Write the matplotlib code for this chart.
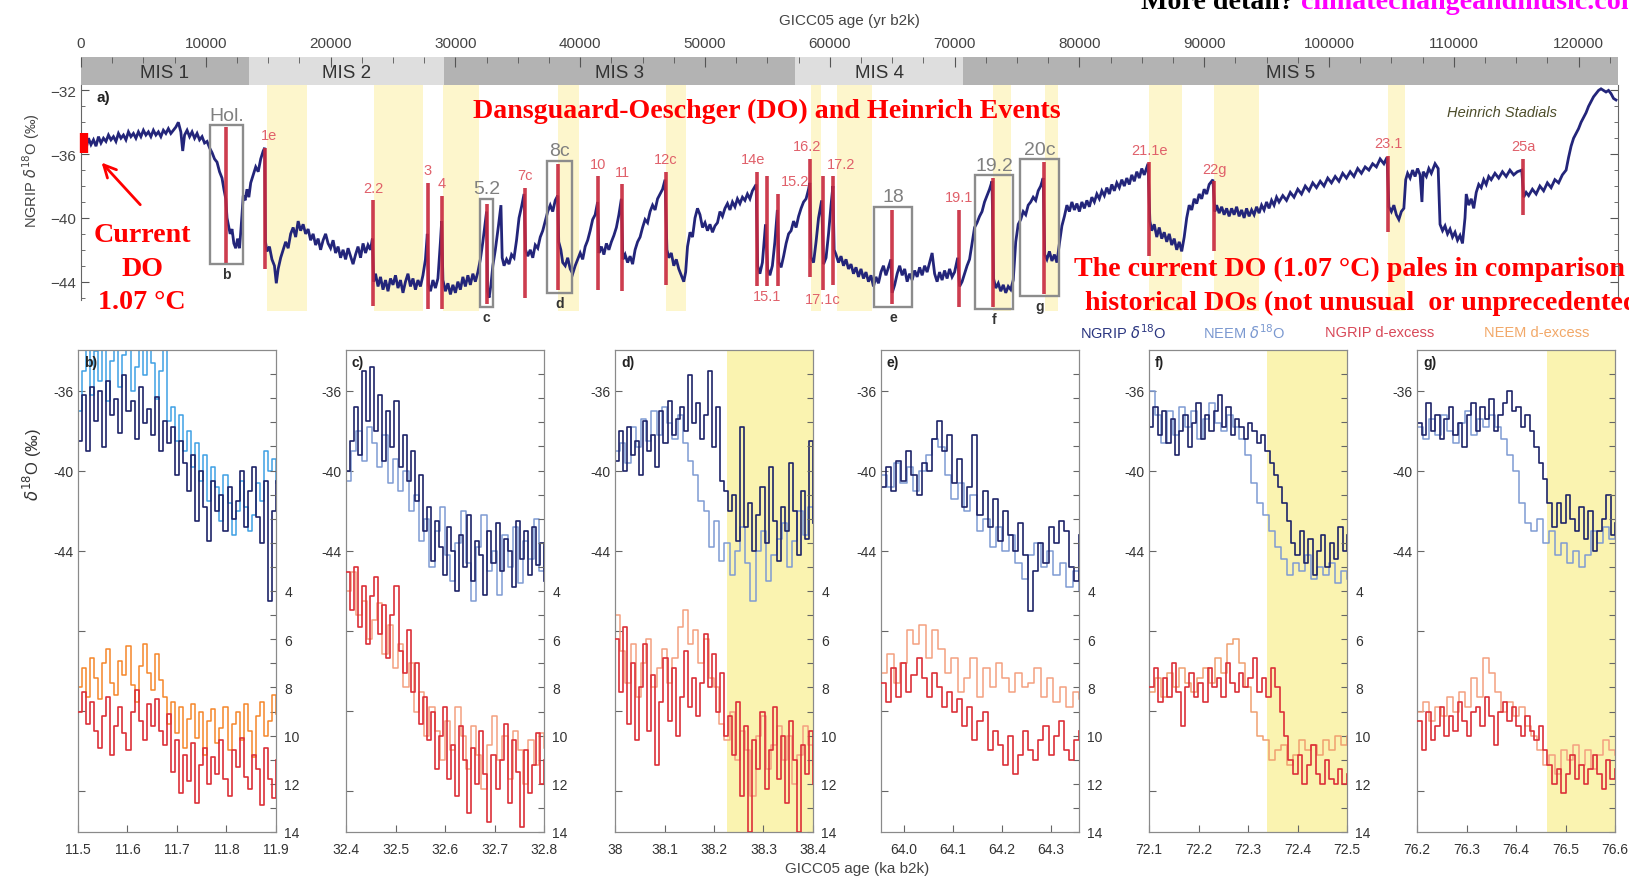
import matplotlib
matplotlib.use('Agg')
import matplotlib.pyplot as plt
from matplotlib.patches import Rectangle
import numpy as np

# ---------------- top panel data (age in ka, NGRIP d18O) ----------------
ngrip = [
 (0.0,-35.4),(0.15,-35.7),(0.3,-35.2),(0.45,-35.5),(0.6,-35.0),(0.8,-35.4),(1.0,-35.1),(1.2,-35.5),
 (1.4,-34.9),(1.6,-35.3),(1.8,-35.0),(2.0,-35.2),(2.2,-34.8),(2.4,-35.1),(2.6,-34.9),(2.8,-35.2),
 (3.0,-34.7),(3.2,-35.0),(3.4,-34.8),(3.6,-35.1),(3.8,-34.6),(4.0,-34.9),(4.2,-34.7),(4.4,-35.0),
 (4.6,-34.6),(4.8,-34.9),(5.0,-34.5),(5.2,-34.8),(5.4,-34.6),(5.6,-34.9),(5.8,-34.5),(6.0,-34.8),
 (6.2,-34.6),(6.4,-34.9),(6.6,-34.5),(6.8,-34.7),(7.0,-34.4),(7.2,-34.7),(7.4,-34.5),(7.6,-34.3),
 (7.8,-34.0),(8.0,-34.6),(8.15,-35.8),(8.3,-34.8),(8.5,-34.5),(8.7,-34.9),(8.9,-34.6),(9.1,-35.0),
 (9.3,-34.7),(9.5,-35.1),(9.7,-34.9),(9.9,-35.3),(10.1,-35.2),(10.3,-35.6),(10.5,-35.9),(10.7,-36.3),
 (10.9,-36.5),(11.1,-37.1),(11.3,-37.5),(11.45,-38.2),(11.6,-38.8),(11.7,-40.0),(11.8,-40.4),(11.95,-41.0),
 (12.1,-40.7),(12.25,-41.6),(12.4,-41.9),(12.55,-41.3),(12.7,-41.9),(12.8,-40.9),(12.9,-39.8),(13.0,-38.6),
 (13.15,-38.9),(13.3,-38.2),(13.45,-38.7),(13.6,-37.8),(13.8,-37.3),(14.0,-36.8),(14.2,-37.1),(14.4,-36.3),
 (14.6,-35.8),(14.72,-35.6),(14.78,-41.5),(14.9,-42.1),(15.1,-41.8),(15.3,-42.6),(15.5,-43.0),(15.65,-44.1),
 (15.8,-43.2),(16.0,-42.5),(16.2,-42.0),(16.4,-41.5),(16.6,-41.9),(16.8,-41.0),(17.0,-40.6),(17.2,-41.2),
 (17.4,-40.2),(17.6,-40.8),(17.8,-40.4),(18.0,-41.0),(18.2,-40.7),(18.4,-41.4),(18.6,-41.0),(18.8,-41.7),
 (19.0,-41.3),(19.2,-42.0),(19.4,-41.4),(19.6,-41.0),(19.8,-41.6),(20.0,-41.9),(20.2,-41.4),(20.4,-42.2),
 (20.6,-41.8),(20.8,-42.5),(21.0,-42.0),(21.2,-42.6),(21.4,-41.9),(21.6,-42.4),(21.8,-42.9),(22.0,-42.3),
 (22.2,-41.8),(22.4,-42.5),(22.6,-41.6),(22.8,-42.2),(23.0,-41.7),(23.2,-42.0),(23.35,-41.3),(23.45,-44.0),
 (23.6,-43.5),(23.8,-44.3),(24.0,-43.7),(24.2,-44.5),(24.4,-43.9),(24.6,-44.6),(24.8,-43.8),(25.0,-44.2),
 (25.2,-43.6),(25.4,-44.4),(25.6,-43.9),(25.8,-44.7),(26.0,-44.0),(26.2,-43.5),(26.4,-44.3),(26.6,-43.8),
 (26.8,-44.5),(27.0,-43.9),(27.2,-44.3),(27.4,-43.6),(27.6,-42.6),(27.75,-41.0),(27.85,-44.2),(28.0,-44.6),
 (28.2,-43.9),(28.4,-44.4),(28.6,-43.8),(28.8,-41.5),(28.9,-40.2),(29.0,-43.9),(29.2,-44.6),(29.4,-44.1),
 (29.6,-44.8),(29.8,-44.2),(30.0,-44.7),(30.2,-44.0),(30.4,-44.5),(30.6,-43.7),(30.8,-44.3),(31.0,-43.6),
 (31.2,-44.2),(31.4,-43.5),(31.6,-44.0),(31.8,-43.4),(32.0,-42.6),(32.2,-41.5),(32.4,-40.2),(32.5,-39.6),
 (32.58,-44.6),(32.7,-45.0),(32.85,-44.2),(33.0,-43.0),(33.2,-42.0),(33.45,-40.5),(33.65,-39.2),(33.75,-42.5),
 (33.9,-43.0),(34.1,-42.6),(34.3,-42.9),(34.5,-42.3),(34.7,-42.5),(34.9,-41.4),(35.1,-40.0),(35.3,-39.3),
 (35.5,-38.5),(35.62,-42.0),(35.8,-42.4),(36.0,-42.0),(36.2,-42.5),(36.4,-41.7),(36.6,-41.9),(36.8,-41.2),
 (37.0,-40.8),(37.2,-40.2),(37.4,-39.6),(37.6,-39.2),(37.8,-39.6),(38.0,-38.9),(38.2,-38.6),(38.28,-41.5),
 (38.45,-42.0),(38.6,-42.8),(38.8,-43.0),(39.0,-42.5),(39.2,-43.2),(39.4,-43.5),(39.6,-43.0),(39.8,-42.6),
 (40.0,-42.2),(40.2,-42.6),(40.4,-41.8),(40.6,-41.4),(40.8,-40.8),(41.0,-40.1),(41.2,-39.8),(41.4,-39.0),
 (41.5,-42.2),(41.7,-41.8),(41.9,-42.3),(42.1,-41.6),(42.3,-42.0),(42.5,-41.5),(42.7,-41.1),(42.9,-40.6),
 (43.1,-39.8),(43.3,-38.8),(43.42,-42.6),(43.6,-42.3),(43.8,-42.8),(44.0,-42.4),(44.2,-42.9),(44.4,-42.0),
 (44.6,-41.5),(44.8,-41.2),(45.0,-40.6),(45.2,-40.1),(45.4,-40.3),(45.6,-39.6),(45.8,-39.2),(46.0,-39.5),
 (46.2,-38.8),(46.4,-38.5),(46.6,-38.2),(46.8,-37.6),(46.95,-42.0),(47.1,-42.5),(47.3,-42.2),(47.5,-43.0),
 (47.7,-42.6),(47.9,-43.2),(48.1,-43.6),(48.3,-44.0),(48.45,-43.4),(48.6,-41.8),(48.8,-40.9),(49.0,-41.2),
 (49.2,-40.0),(49.4,-39.4),(49.6,-39.8),(49.8,-40.6),(50.0,-40.3),(50.2,-40.8),(50.4,-40.4),(50.6,-40.9),
 (50.8,-40.5),(51.0,-40.3),(51.2,-39.6),(51.4,-39.9),(51.6,-39.4),(51.8,-39.1),(52.0,-39.5),(52.2,-39.0),
 (52.4,-39.3),(52.6,-38.8),(52.8,-39.1),(53.0,-38.7),(53.2,-38.9),(53.4,-38.5),(53.6,-38.8),(53.8,-38.3),
 (54.1,-37.9),(54.22,-43.0),(54.4,-43.5),(54.6,-42.8),(54.85,-40.4),(55.02,-43.2),(55.2,-43.6),(55.4,-43.0),
 (55.6,-41.5),(55.8,-39.5),(55.92,-42.8),(56.1,-43.1),(56.3,-42.4),(56.5,-41.6),(56.7,-41.0),(56.9,-40.8),
 (57.1,-40.2),(57.3,-40.6),(57.5,-39.9),(57.7,-39.4),(57.9,-39.0),(58.1,-38.8),(58.3,-38.2),(58.4,-37.8),
 (58.5,-42.5),(58.7,-42.8),(58.9,-41.5),(59.1,-40.0),(59.35,-38.9),(59.5,-42.9),(59.7,-42.5),(59.9,-41.0),
 (60.1,-39.2),(60.25,-38.0),(60.35,-42.0),(60.5,-42.3),(60.7,-42.8),(60.9,-42.4),(61.1,-43.0),(61.3,-42.6),
 (61.5,-43.2),(61.7,-42.9),(61.9,-43.5),(62.1,-43.1),(62.3,-43.7),(62.5,-43.2),(62.7,-43.8),(62.9,-43.4),
 (63.1,-44.0),(63.3,-43.6),(63.5,-44.3),(63.7,-43.7),(63.9,-44.1),(64.1,-43.4),(64.3,-43.0),(64.5,-43.6),
 (64.7,-43.1),(64.9,-42.6),(65.0,-44.7),(65.2,-44.2),(65.4,-43.5),(65.6,-43.0),(65.8,-43.6),(66.0,-43.2),
 (66.2,-44.0),(66.4,-43.5),(66.6,-43.9),(66.8,-43.3),(67.0,-43.7),(67.2,-43.1),(67.4,-43.6),(67.6,-43.0),
 (67.8,-43.4),(68.0,-42.8),(68.2,-42.2),(68.4,-43.5),(68.6,-44.0),(68.8,-43.4),(69.0,-43.9),(69.2,-43.3),
 (69.4,-43.8),(69.6,-43.2),(69.8,-43.7),(70.0,-43.4),(70.25,-42.5),(70.4,-44.3),(70.6,-44.0),(70.8,-43.5),
 (71.0,-43.0),(71.2,-42.6),(71.4,-41.6),(71.6,-40.6),(71.8,-40.3),(72.0,-39.9),(72.2,-39.6),(72.4,-39.0),
 (72.6,-38.6),(72.8,-38.2),(73.0,-37.7),(73.12,-43.8),(73.3,-44.4),(73.5,-44.1),(73.7,-44.6),(73.9,-44.2),
 (74.1,-44.7),(74.3,-44.3),(74.5,-44.5),(74.7,-43.9),(74.9,-41.5),(75.1,-40.4),(75.3,-40.1),(75.5,-39.6),
 (75.7,-39.8),(75.9,-39.2),(76.1,-39.0),(76.3,-38.7),(76.5,-38.9),(76.7,-38.3),(76.9,-38.0),(77.1,-37.5),
 (77.22,-42.3),(77.4,-42.6),(77.6,-42.1),(77.8,-42.7),(78.0,-42.3),(78.2,-42.8),(78.4,-41.6),(78.6,-40.5),
 (78.8,-39.9),(79.0,-39.2),(79.2,-39.6),(79.4,-39.0),(79.6,-39.5),(79.8,-39.1),(80.0,-39.6),(80.2,-39.0),
 (80.4,-39.4),(80.6,-38.9),(80.8,-39.3),(81.0,-38.7),(81.2,-39.0),(81.4,-38.5),(81.6,-38.8),(81.8,-38.3),
 (82.0,-38.6),(82.2,-38.1),(82.4,-38.5),(82.6,-37.9),(82.8,-38.3),(83.0,-37.8),(83.2,-38.1),(83.4,-37.6),
 (83.6,-38.0),(83.8,-37.5),(84.0,-37.9),(84.2,-37.3),(84.4,-37.7),(84.6,-37.1),(84.8,-37.5),(85.0,-36.9),
 (85.2,-37.3),(85.5,-36.6),(85.65,-40.2),(85.8,-40.8),(86.0,-40.4),(86.2,-41.2),(86.4,-40.6),(86.6,-41.3),
 (86.8,-40.9),(87.0,-41.5),(87.2,-41.0),(87.4,-41.7),(87.6,-41.3),(87.8,-42.0),(88.0,-41.5),(88.2,-42.1),
 (88.4,-41.2),(88.6,-40.0),(88.8,-39.2),(89.0,-39.5),(89.2,-38.8),(89.4,-39.1),(89.6,-38.5),(89.8,-38.8),
 (90.0,-38.2),(90.2,-38.5),(90.4,-37.9),(90.7,-37.6),(90.85,-39.6),(91.0,-39.2),(91.2,-39.7),(91.4,-39.3),
 (91.6,-39.8),(91.8,-39.4),(92.0,-39.9),(92.2,-39.4),(92.4,-39.8),(92.6,-39.3),(92.8,-39.9),(93.0,-39.5),
 (93.2,-40.0),(93.4,-39.4),(93.6,-39.9),(93.8,-39.5),(94.0,-39.8),(94.2,-39.3),(94.4,-39.7),(94.6,-39.2),
 (94.8,-39.5),(95.0,-39.0),(95.2,-39.4),(95.4,-38.9),(95.6,-39.2),(95.8,-38.7),(96.0,-39.0),(96.3,-38.6),
 (96.6,-38.9),(96.9,-38.4),(97.2,-38.7),(97.5,-38.2),(97.8,-38.5),(98.1,-38.0),(98.4,-38.3),(98.7,-37.8),
 (99.0,-38.1),(99.3,-37.7),(99.6,-38.0),(99.9,-37.5),(100.2,-37.8),(100.5,-37.4),(100.8,-37.7),(101.1,-37.2),
 (101.4,-37.5),(101.7,-37.1),(102.0,-37.4),(102.3,-36.9),(102.6,-37.2),(102.9,-36.8),(103.2,-37.0),(103.5,-36.6),
 (103.8,-36.8),(104.1,-36.3),(104.4,-36.6),(104.65,-36.2),(104.8,-39.3),(105.0,-39.6),(105.2,-39.2),(105.4,-39.8),
 (105.6,-40.1),(105.8,-39.6),(106.0,-39.4),(106.15,-37.6),(106.3,-37.2),(106.5,-37.5),(106.7,-37.0),(106.9,-37.4),
 (107.1,-36.9),(107.3,-37.3),(107.45,-39.0),(107.55,-37.1),(107.8,-37.4),(108.0,-36.9),(108.2,-37.2),(108.5,-36.6),
 (108.75,-36.9),(108.9,-40.4),(109.1,-40.8),(109.3,-40.5),(109.5,-41.0),(109.7,-40.7),(109.9,-41.2),(110.1,-40.9),
 (110.3,-41.4),(110.5,-41.1),(110.7,-41.6),(110.9,-40.0),(111.0,-38.5),(111.2,-39.2),(111.4,-38.8),(111.6,-39.4),
 (111.8,-38.4),(112.0,-37.9),(112.2,-38.1),(112.4,-37.6),(112.6,-37.9),(112.8,-37.4),(113.0,-37.6),(113.3,-37.2),
 (113.6,-37.5),(113.9,-37.1),(114.2,-37.4),(114.5,-37.0),(114.8,-37.3),(115.1,-37.1),(115.45,-37.0),(115.6,-38.7),
 (115.8,-38.4),(116.0,-38.6),(116.3,-38.2),(116.6,-38.5),(116.9,-38.0),(117.2,-38.3),(117.5,-37.8),(117.8,-38.1),
 (118.1,-37.6),(118.4,-37.8),(118.7,-37.3),(119.0,-37.0),(119.2,-36.2),(119.4,-35.5),(119.6,-35.0),(119.8,-34.7),
 (120.0,-34.4),(120.2,-34.0),(120.4,-33.7),(120.6,-33.4),(120.8,-33.0),(121.0,-32.7),(121.2,-32.4),(121.4,-32.2),
 (121.6,-32.0),(121.8,-31.9),(122.0,-32.0),(122.2,-32.1),(122.4,-32.0),(122.6,-32.2),(122.8,-32.5),(123.0,-32.6),
]

# DO events: name, onset age (ka), top and bottom of red marker (permil)
do_names = ['', '1e', '2.2', '3', '4', '', '7c', '', '10', '11', '12c', '14e', '15.1', '15.2',
            '16.2', '17.1c', '17.2', '', '19.1', '', '', '21.1e', '22g', '23.1', '25a']
do_ages = [11.65, 14.74, 23.4, 27.8, 28.93, 32.53, 35.58, 38.22, 41.43, 43.35, 46.88, 54.17, 54.97,
           55.85, 58.41, 59.46, 60.26, 64.95, 70.35, 73.08, 77.16, 85.58, 90.79, 104.75, 115.55]
do_top = [-34.3, -35.6, -38.9, -37.8, -38.6, -39.1, -38.1, -36.6, -37.4, -37.9, -37.1, -37.1, -37.4,
          -38.5, -36.3, -37.4, -37.4, -39.5, -39.5, -37.5, -36.5, -36.5, -37.7, -36.1, -36.3]
do_bot = [-42.8, -43.2, -45.5, -45.7, -45.7, -45.4, -45.0, -44.5, -44.5, -44.6, -44.2, -44.3, -44.3,
          -44.3, -43.7, -44.5, -44.2, -45.4, -45.6, -45.6, -44.8, -42.4, -42.1, -40.9, -39.8]

# boxed events shown in the lower panels
box_names = ['Hol.', '5.2', '8c', '18', '19.2', '20c']
box_letters = ['b', 'c', 'd', 'e', 'f', 'g']
box_from = [10.34, 31.97, 37.34, 63.54, 71.63, 75.24]
box_to = [12.98, 33.01, 39.34, 66.59, 74.68, 78.37]
box_top = [-34.2, -38.8, -36.4, -39.3, -37.3, -36.3]
box_bot = [-42.9, -45.6, -44.7, -45.6, -45.7, -44.9]

# Heinrich stadials (ka)
hs_from = [14.9, 23.5, 29.0, 38.25, 46.9, 58.5, 60.6, 73.1, 77.25, 85.6, 90.8, 104.7]
hs_to = [18.1, 27.4, 31.9, 39.9, 48.5, 59.3, 63.4, 74.5, 78.3, 88.2, 94.4, 106.1]

mis_names = ['MIS 1', 'MIS 2', 'MIS 3', 'MIS 4', 'MIS 5']
mis_from = [0, 13.46, 29.08, 57.2, 70.7]
mis_to = [13.46, 29.08, 57.2, 70.7, 123.2]

current_do = (-34.7, -35.9)

# ---------------- lower panels data ----------------
panel_lims = [(11.5, 11.9), (32.4, 32.8), (38.0, 38.4), (63.953, 64.357), (72.1, 72.5), (76.2, 76.6)]
panel_ticks = [[11.5, 11.6, 11.7, 11.8, 11.9], [32.4, 32.5, 32.6, 32.7, 32.8], [38.0, 38.1, 38.2, 38.3, 38.4],
               [64.0, 64.1, 64.2, 64.3], [72.1, 72.2, 72.3, 72.4, 72.5], [76.2, 76.3, 76.4, 76.5, 76.6]]
panel_ticklabels = [['11.5', '11.6', '11.7', '11.8', '11.9'], ['32.4', '32.5', '32.6', '32.7', '32.8'],
                    ['38', '38.1', '38.2', '38.3', '38.4'], ['64.0', '64.1', '64.2', '64.3'],
                    ['72.1', '72.2', '72.3', '72.4', '72.5'], ['76.2', '76.3', '76.4', '76.5', '76.6']]
panel_stadial = [None, None, 38.227, None, 72.338, 76.462]

ngrip_d18o = [
 [-38.5,-36.2,-39.0,-35.8,-37.5,-36.0,-38.8,-35.5,-37.2,-36.4,-38.1,-35.2,-37.0,-36.5,-38.4,-35.8,-37.6,-36.9,-38.2,-36.3,
  -39.0,-37.5,-38.6,-37.8,-40.2,-38.5,-39.6,-41.0,-39.2,-42.5,-40.0,-41.8,-43.5,-40.5,-42.0,-41.2,-43.0,-40.8,-42.4,-41.5,
  -40.0,-42.8,-41.0,-39.8,-42.3,-43.6,-40.5,-46.5,-42.0,-40.5],
 [-40.0,-38.5,-36.8,-39.2,-35.0,-37.5,-34.8,-38.0,-36.2,-39.5,-37.0,-38.8,-36.5,-39.8,-38.2,-40.5,-39.0,-41.5,-40.2,-43.0,
  -41.8,-44.5,-42.5,-43.8,-45.2,-42.8,-44.0,-46.0,-43.2,-44.8,-42.2,-45.5,-43.5,-44.2,-46.2,-43.0,-44.6,-42.6,-45.0,-43.4,
  -44.0,-45.8,-42.5,-44.4,-43.0,-45.2,-42.8,-44.7,-43.6,-45.5],
 [-39.5,-38.0,-40.0,-37.8,-39.2,-38.5,-40.2,-37.5,-39.0,-38.2,-39.8,-37.0,-38.6,-36.5,-38.2,-37.4,-36.8,-38.0,-35.2,-37.6,
  -36.6,-38.4,-37.2,-35.0,-38.8,-36.8,-40.5,-41.0,-42.0,-41.2,-43.5,-37.8,-42.8,-41.6,-44.0,-42.2,-40.8,-43.6,-39.8,-42.5,
  -44.5,-41.8,-43.0,-39.6,-42.0,-44.2,-41.0,-43.4,-38.5,-42.6],
 [-40.8,-39.8,-41.0,-39.5,-40.5,-39.0,-40.2,-41.2,-39.6,-40.0,-38.4,-37.5,-39.0,-38.2,-40.6,-39.4,-41.8,-40.8,-38.2,-42.2,
  -41.0,-42.8,-41.4,-43.5,-42.0,-43.2,-44.0,-42.6,-44.2,-47.0,-45.0,-43.6,-44.6,-42.8,-43.6,-42.5,-43.0,-44.8,-45.5,-43.2],
 [-37.8,-36.8,-38.2,-37.0,-38.6,-37.4,-39.2,-38.0,-37.2,-38.8,-37.6,-36.6,-38.4,-37.2,-38.0,-37.0,-36.2,-37.8,-36.8,-38.2,
  -37.4,-37.8,-38.4,-37.6,-38.0,-38.6,-38.2,-39.0,-39.6,-40.2,-40.8,-41.6,-42.5,-43.6,-44.2,-43.0,-44.6,-43.4,-45.2,-44.0,
  -43.2,-44.8,-43.6,-44.4,-42.8,-44.0,-43.2],
 [-37.6,-38.2,-36.6,-38.0,-37.2,-38.4,-37.4,-36.8,-38.2,-37.6,-38.8,-37.2,-36.6,-38.0,-36.8,-37.4,-36.4,-38.0,-37.2,-36.6,
  -36.0,-37.0,-36.8,-37.8,-37.2,-38.0,-38.8,-39.6,-40.4,-41.6,-42.8,-41.6,-42.6,-41.2,-42.4,-43.0,-41.8,-43.4,-42.0,-44.0,
  -43.0,-42.4,-41.2,-43.2,-42.6],
]
neem_d18o = [
 [-37.0,-35.0,-33.5,-36.2,-34.0,-35.5,-33.0,-36.5,-34.5,-33.2,-35.8,-34.2,-33.0,-36.0,-34.8,-33.4,-35.2,-33.0,-34.6,-36.4,
  -35.0,-33.5,-37.5,-36.8,-38.5,-37.2,-39.0,-38.0,-39.8,-38.6,-40.5,-39.2,-41.5,-39.8,-40.8,-42.5,-40.2,-41.6,-43.2,-42.0,
  -40.5,-41.8,-43.0,-42.2,-40.6,-41.5,-39.0,-40.0,-39.4,-40.6],
 [-40.5,-39.0,-38.0,-39.5,-37.8,-38.6,-39.8,-38.2,-40.6,-39.4,-41.0,-40.0,-42.0,-41.2,-43.5,-42.4,-44.8,-43.0,-41.8,-44.2,
  -45.5,-43.6,-42.0,-44.6,-46.5,-43.8,-42.2,-45.0,-44.0,-46.2,-43.2,-44.8,-42.8,-45.6,-43.5,-44.4,-42.4,-45.0,-43.8],
 [-39.0,-38.6,-39.6,-37.8,-38.8,-37.4,-38.5,-37.0,-38.2,-36.8,-37.6,-38.4,-37.2,-38.6,-39.5,-40.2,-41.5,-42.0,-43.8,-42.5,
  -44.5,-43.6,-45.2,-44.0,-42.8,-44.6,-46.5,-44.0,-43.0,-45.5,-44.2,-43.4,-42.6,-44.8,-43.5,-42.0,-43.2,-41.8,-42.6],
 [-40.2,-40.8,-39.6,-40.6,-39.8,-41.0,-40.0,-39.2,-38.4,-38.8,-40.2,-41.4,-40.6,-42.0,-41.2,-43.0,-42.4,-43.8,-42.8,-44.0,
  -43.2,-44.6,-45.4,-44.2,-43.6,-44.8,-44.0,-45.2,-44.6,-45.8,-45.0,-46.0],
 [-36.0,-37.2,-38.6,-37.0,-38.2,-36.8,-37.8,-37.0,-38.4,-37.4,-36.6,-37.6,-38.0,-37.2,-37.8,-38.4,-39.2,-40.6,-41.6,-42.2,
  -43.0,-43.8,-44.4,-45.2,-44.6,-45.0,-44.2,-45.4,-44.8,-45.2,-44.6,-45.6,-45.0,-45.4],
 [-37.8,-38.4,-37.4,-38.2,-37.2,-38.0,-38.6,-37.6,-37.0,-38.2,-37.4,-37.8,-37.2,-37.8,-38.4,-39.2,-40.0,-41.6,-42.6,-43.0,
  -42.4,-43.6,-43.0,-44.2,-43.6,-44.6,-44.0,-44.8,-44.2,-43.0,-43.6,-42.8,-43.4,-43.0],
]
ngrip_dxs = [
 [9.0,8.2,9.5,8.6,9.8,10.5,9.2,8.4,10.8,9.6,8.8,9.9,10.6,9.0,8.1,9.4,10.2,8.7,9.6,8.5,9.8,10.4,9.1,11.5,10.2,
  12.4,10.8,11.9,10.3,12.8,11.2,10.5,12.0,10.9,11.6,10.2,11.8,12.5,10.6,11.3,10.1,11.7,12.2,10.8,11.4,12.9,10.5,11.8,12.6,11.0],
 [3.2,4.8,3.0,5.5,3.8,6.2,4.2,3.4,5.8,4.6,6.8,5.0,3.8,6.5,7.4,5.6,8.2,7.0,9.5,8.4,10.2,9.0,11.4,10.0,8.8,
  11.8,10.4,12.5,9.6,11.0,13.2,10.5,12.0,9.8,11.6,13.6,10.8,12.2,11.0,9.5,12.8,10.2,11.5,13.8,10.6,12.4,11.2,9.9,12.0,11.0],
 [6.0,8.2,5.5,9.5,7.0,10.2,8.0,6.2,9.8,7.5,11.2,8.6,6.8,9.4,7.2,10.0,8.4,6.5,8.8,7.6,9.2,7.8,5.8,8.0,6.6,
  9.0,7.4,10.0,9.2,10.8,8.6,12.5,9.6,14.0,10.2,11.4,9.0,12.2,10.6,8.8,11.8,10.0,12.8,9.4,11.0,14.0,10.4,11.6,9.8,12.0],
 [7.8,8.6,7.2,8.4,7.0,8.2,7.5,6.8,7.6,8.4,7.4,8.0,8.8,8.2,9.0,8.5,9.6,8.8,10.2,9.4,9.0,10.6,9.8,10.4,11.2,
  10.0,11.6,10.8,9.8,10.6,11.0,10.2,9.6,10.8,10.0,9.4,10.6,11.0,10.2,9.8],
 [8.0,7.2,8.6,7.6,8.4,7.0,8.2,9.6,8.0,7.4,8.4,7.8,8.6,7.2,8.0,7.6,8.4,7.0,7.8,8.2,7.4,8.0,7.6,6.8,8.2,
  7.6,8.4,7.2,8.0,9.0,10.0,11.0,11.6,10.8,12.0,11.2,10.4,11.6,12.0,11.0,11.8,12.0,11.4,12.0,11.6],
 [9.4,10.6,9.0,10.2,9.6,8.8,10.0,9.2,9.8,8.6,9.4,10.0,9.0,8.8,9.6,8.4,9.2,10.4,9.0,8.6,9.4,8.8,9.6,10.0,9.2,
  9.8,10.2,9.6,10.6,11.2,12.0,11.4,12.4,11.6,10.8,11.8,11.2,12.0,11.4,10.8,11.6,12.2,11.0,11.8,11.4],
]
neem_dxs = [
 [8.0,7.2,8.4,6.8,7.6,8.5,7.0,6.4,7.8,8.3,6.9,7.5,6.3,7.9,8.6,7.1,6.2,7.4,8.1,6.6,7.7,8.4,9.5,8.6,9.9,
  8.8,10.5,9.3,8.7,10.1,9.0,10.8,9.4,8.9,10.3,9.7,8.8,10.6,9.5,9.0,10.2,8.7,9.8,10.9,9.2,8.6,10.0,9.4,8.3,9.1],
 [4.0,3.2,5.0,4.4,6.0,5.2,4.5,6.6,5.4,7.2,6.2,8.0,7.0,9.0,8.2,10.0,8.8,9.8,11.0,9.4,10.6,8.8,10.0,11.4,9.6,
  10.8,12.2,10.4,9.2,11.0,10.0,11.8,9.8,10.6,12.0,10.2,11.2,9.9,10.5],
 [5.0,6.5,7.8,6.2,8.4,7.0,6.0,8.0,7.2,6.4,7.8,6.8,5.5,4.8,6.2,5.6,7.0,6.0,7.6,8.0,9.5,10.2,9.0,11.0,9.8,
  10.6,12.5,10.0,9.2,11.4,10.4,9.6,11.0,10.0,12.0,10.8,9.6,10.4,11.2],
 [7.4,6.6,7.8,7.0,5.6,6.2,5.4,6.8,5.6,6.4,7.4,6.8,8.2,7.6,6.8,8.4,7.2,8.0,7.0,7.6,8.2,7.4,8.0,7.8,7.2,
  8.4,7.6,8.6,8.0,8.8,8.2,8.5],
 [8.2,7.6,8.4,7.4,8.0,7.2,7.8,8.2,7.6,7.2,7.8,6.8,7.4,6.2,6.0,7.0,8.0,9.0,10.0,10.2,11.0,10.6,10.4,11.2,10.8,
  10.2,10.6,10.4,10.8,10.2,10.6,10.0,10.4,10.0],
 [9.0,8.6,9.4,8.8,9.2,8.4,9.0,8.2,8.8,7.6,8.4,6.8,7.4,8.2,9.0,8.6,9.2,8.8,9.6,10.0,10.6,11.2,10.8,11.6,10.6,
  11.0,10.4,11.2,10.6,11.4,10.8,10.2,10.6,10.8],
]

# ---------------- figure ----------------
W, H = 1629, 878
SANS = 'Liberation Sans'
SERIF = 'Liberation Serif'
plt.rcParams['font.family'] = [SANS, 'DejaVu Sans']


def frame(l, t, r, b):
    return [l / W, 1 - b / H, (r - l) / W, (b - t) / H]


fig = plt.figure(figsize=(W / 100, H / 100), dpi=100)

XMAX = 123160

# MIS band with the top age axis
mis = fig.add_axes(frame(81, 58, 1618, 86))
for i in range(len(mis_names)):
    c = '#b3b3b3' if i % 2 == 0 else '#dedede'
    mis.axvspan(mis_from[i] * 1000, mis_to[i] * 1000, color=c, lw=0)
    mis.text((mis_from[i] + mis_to[i]) * 500, 0.45, mis_names[i], ha='center', va='center',
             fontsize=13.5, color='#333333')
mis.set_xlim(0, XMAX)
mis.set_ylim(0, 1)
mis.xaxis.tick_top()
mis.set_xticks(np.arange(0, 120001, 10000))
mis.set_xticks(np.arange(0, 122501, 2500), minor=True)
mis.tick_params(axis='x', which='both', direction='in', top=True, bottom=False,
                labelsize=11, labelcolor='#444444', color='#555555', pad=5)
mis.tick_params(axis='x', which='major', length=7)
mis.tick_params(axis='x', which='minor', length=4)
mis.set_yticks([])
for s in mis.spines.values():
    s.set_visible(False)
mis.set_title('GICC05 age (yr b2k)', fontsize=11, color='#444444', pad=24)

# main record
ax = fig.add_axes(frame(81, 86, 1618, 312))
ax.set_xlim(0, XMAX)
ax.set_ylim(-45.84, -31.66)
for a, b in zip(hs_from, hs_to):
    ax.axvspan(a * 1000, b * 1000, color='#fdf6cc', lw=0, zorder=0)

age = np.array([p[0] for p in ngrip]) * 1000
d18 = np.array([p[1] for p in ngrip])
ax.plot(age, d18, color='#23257a', lw=2.0, zorder=3, solid_joinstyle='miter')

ax.vlines(np.array(do_ages) * 1000, do_bot, do_top, colors='#c8283c', lw=2.6, alpha=0.9,
          zorder=4, clip_on=False)

for i in range(len(box_names)):
    x0, x1 = box_from[i] * 1000, box_to[i] * 1000
    ax.add_patch(Rectangle((x0, box_bot[i]), x1 - x0, box_top[i] - box_bot[i], fill=False,
                           ec='#8c8c8c', lw=1.7, zorder=5, clip_on=False))
    ax.annotate(box_names[i], ((x0 + x1) / 2, box_top[i]), xytext=(0, 1), textcoords='offset points',
                ha='center', va='bottom', fontsize=14, color='#808080')
    ax.annotate(box_letters[i], ((x0 + x1) / 2, box_bot[i]), xytext=(0, -2), textcoords='offset points',
                ha='center', va='top', fontsize=10, color='#333333', fontweight='bold',
                annotation_clip=False)

label_shift = {'14e': -3, '15.2': 12, '16.2': -2, '17.2': 6, '1e': 3}
for name, a, top, bot in zip(do_names, do_ages, do_top, do_bot):
    if not name:
        continue
    dx = label_shift.get(name, 0)
    if name in ('15.1', '17.1c'):
        ax.annotate(name, (a * 1000, bot), xytext=(dx, -2), textcoords='offset points',
                    ha='center', va='top', fontsize=10.5, color='#e0606a', annotation_clip=False)
    else:
        ax.annotate(name, (a * 1000, top), xytext=(dx, 4), textcoords='offset points',
                    ha='center', va='bottom', fontsize=10.5, color='#e0606a')

ax.vlines(250, current_do[1], current_do[0], colors='red', lw=6, zorder=6, clip_on=False)
ax.annotate('', xy=(1500, -36.4), xytext=(4900, -39.3),
            arrowprops=dict(arrowstyle='->', color='red', lw=2, mutation_scale=22))
ax.text(0.010, 0.945, 'a)', transform=ax.transAxes, fontsize=11, fontweight='bold', color='#222222',
        va='center')
ax.text(113900, -33.36, 'Heinrich Stadials', fontsize=10.5, style='italic', color='#4d4d2a',
        ha='center', va='center')

ax.spines['top'].set_visible(False)
ax.spines['bottom'].set_visible(False)
ax.spines['left'].set_bounds(-45.15, -31.66)
ax.spines['right'].set_bounds(-45.15, -31.66)
for s in ('left', 'right'):
    ax.spines[s].set_color('#666666')
ax.set_xticks([])
ax.set_yticks([-32, -36, -40, -44])
ax.set_yticks(np.arange(-45, -31, 1), minor=True)
ax.tick_params(axis='y', which='both', direction='in', right=True, left=True, color='#555555',
               labelsize=11, labelcolor='#444444', labelright=False)
ax.tick_params(axis='y', which='major', length=6)
ax.tick_params(axis='y', which='minor', length=3)
fig.text(31 / W, 1 - 171 / H, 'NGRIP $\\delta^{18}$O (‰)', rotation=90, ha='center', va='center',
         fontsize=10.5, color='#444444')

# ---------------- lower panels ----------------
lefts = [78, 346, 615, 881, 1149, 1417]
letters = ['b)', 'c)', 'd)', 'e)', 'f)', 'g)']
neem_blue = ['#3fa0e4', '#7f9bd3', '#7f9bd3', '#7f9bd3', '#7f9bd3', '#7f9bd3']
neem_orange = ['#f5862a', '#f4a080', '#f4a080', '#f4a080', '#f0a070', '#f4a080']

for i in range(6):
    pa = fig.add_axes(frame(lefts[i], 351, lefts[i] + 198, 833))
    x0, x1 = panel_lims[i]
    pa.set_xlim(x0, x1)
    pa.set_ylim(-58.07, -33.97)
    if panel_stadial[i] is not None:
        pa.axvspan(panel_stadial[i], x1, color='#faf3b0', lw=0, zorder=0)
    n1 = ngrip_d18o[i]
    n2 = neem_d18o[i]
    pa.plot(np.linspace(x0, x1, len(n2)), n2, drawstyle='steps-post', color=neem_blue[i], lw=1.1, zorder=2)
    pa.plot(np.linspace(x0, x1, len(n1)), n1, drawstyle='steps-post', color='#1e2468', lw=1.2, zorder=3)

    tw = pa.twinx()
    tw.set_ylim(14, -6)
    e2 = neem_dxs[i]
    e1 = ngrip_dxs[i]
    tw.plot(np.linspace(x0, x1, len(e2)), e2, drawstyle='steps-post', color=neem_orange[i], lw=1.1, zorder=2)
    tw.plot(np.linspace(x0, x1, len(e1)), e1, drawstyle='steps-post', color='#dc3038', lw=1.2, zorder=3)

    pa.set_xticks(panel_ticks[i])
    pa.set_xticklabels(panel_ticklabels[i])
    pa.set_yticks([-36, -40, -44, -48, -52, -56])
    pa.set_yticklabels(['-36', '-40', '-44', '', '', ''])
    tw.set_yticks(np.arange(-5, 15, 1))
    if i < 5:
        tw.set_yticklabels([str(v) if (v >= 4 and v % 2 == 0) else '' for v in range(-5, 15)])
    else:
        tw.set_yticklabels([])
    pa.tick_params(direction='in', length=5, labelsize=10, labelcolor='#333333', color='#666666',
                   top=False)
    pa.tick_params(axis='x', pad=7)
    tw.tick_params(direction='in', length=4, labelsize=10, labelcolor='#333333', color='#666666', pad=6)
    for a_ in (pa, tw):
        for s in a_.spines.values():
            s.set_color('#8a8a8a')
    pa.text(0.03, 0.99, letters[i], transform=pa.transAxes, va='top', ha='left', fontsize=10,
            fontweight='bold', color='#222222', zorder=10)

fig.text(32 / W, 1 - 465 / H, '$\\delta^{18}$O (‰)', rotation=90, ha='center', va='center',
         fontsize=12, color='#333333')
fig.text(857 / W, 1 - 869 / H, 'GICC05 age (ka b2k)', ha='center', va='center', fontsize=11,
         color='#444444')

legend_items = [('NGRIP $\\delta^{18}$O', '#2a3580', 1080), ('NEEM $\\delta^{18}$O', '#7a98d0', 1203),
                ('NGRIP d-excess', '#d84858', 1325), ('NEEM d-excess', '#f2a868', 1484)]
for txt, col, xp in legend_items:
    fig.text(xp / W, 1 - 333 / H, txt, ha='left', va='center', fontsize=10.5, color=col)

# ---------------- red commentary ----------------
red_font = dict(family=SERIF, fontweight='bold', color='red', fontsize=20.2)
fig.text(767 / W, 1 - 111 / H, 'Dansguaard-Oeschger (DO) and Heinrich Events', ha='center',
         va='center', **red_font)
fig.text(142 / W, 1 - 269 / H, 'Current\nDO\n1.07 °C', ha='center', va='center', linespacing=1.43,
         **red_font)
fig.text(1074 / W, 1 - 269 / H, 'The current DO (1.07 °C) pales in comparison', ha='left',
         va='center', **red_font)
fig.text(1085 / W, 1 - 303 / H, 'historical DOs (not unusual  or unprecedented)', ha='left',
         va='center', **red_font)
fig.text(1141 / W, 1 - 9 / H, 'More detail?', ha='left', va='baseline', family=SERIF,
         fontweight='bold', fontsize=20.2, color='black')
fig.text(1301 / W, 1 - 9 / H, 'climatechangeandmusic.com', ha='left', va='baseline', family=SERIF,
         fontweight='bold', fontsize=20.2, color='#ff00ff')

fig.savefig('out.png', dpi=100)
